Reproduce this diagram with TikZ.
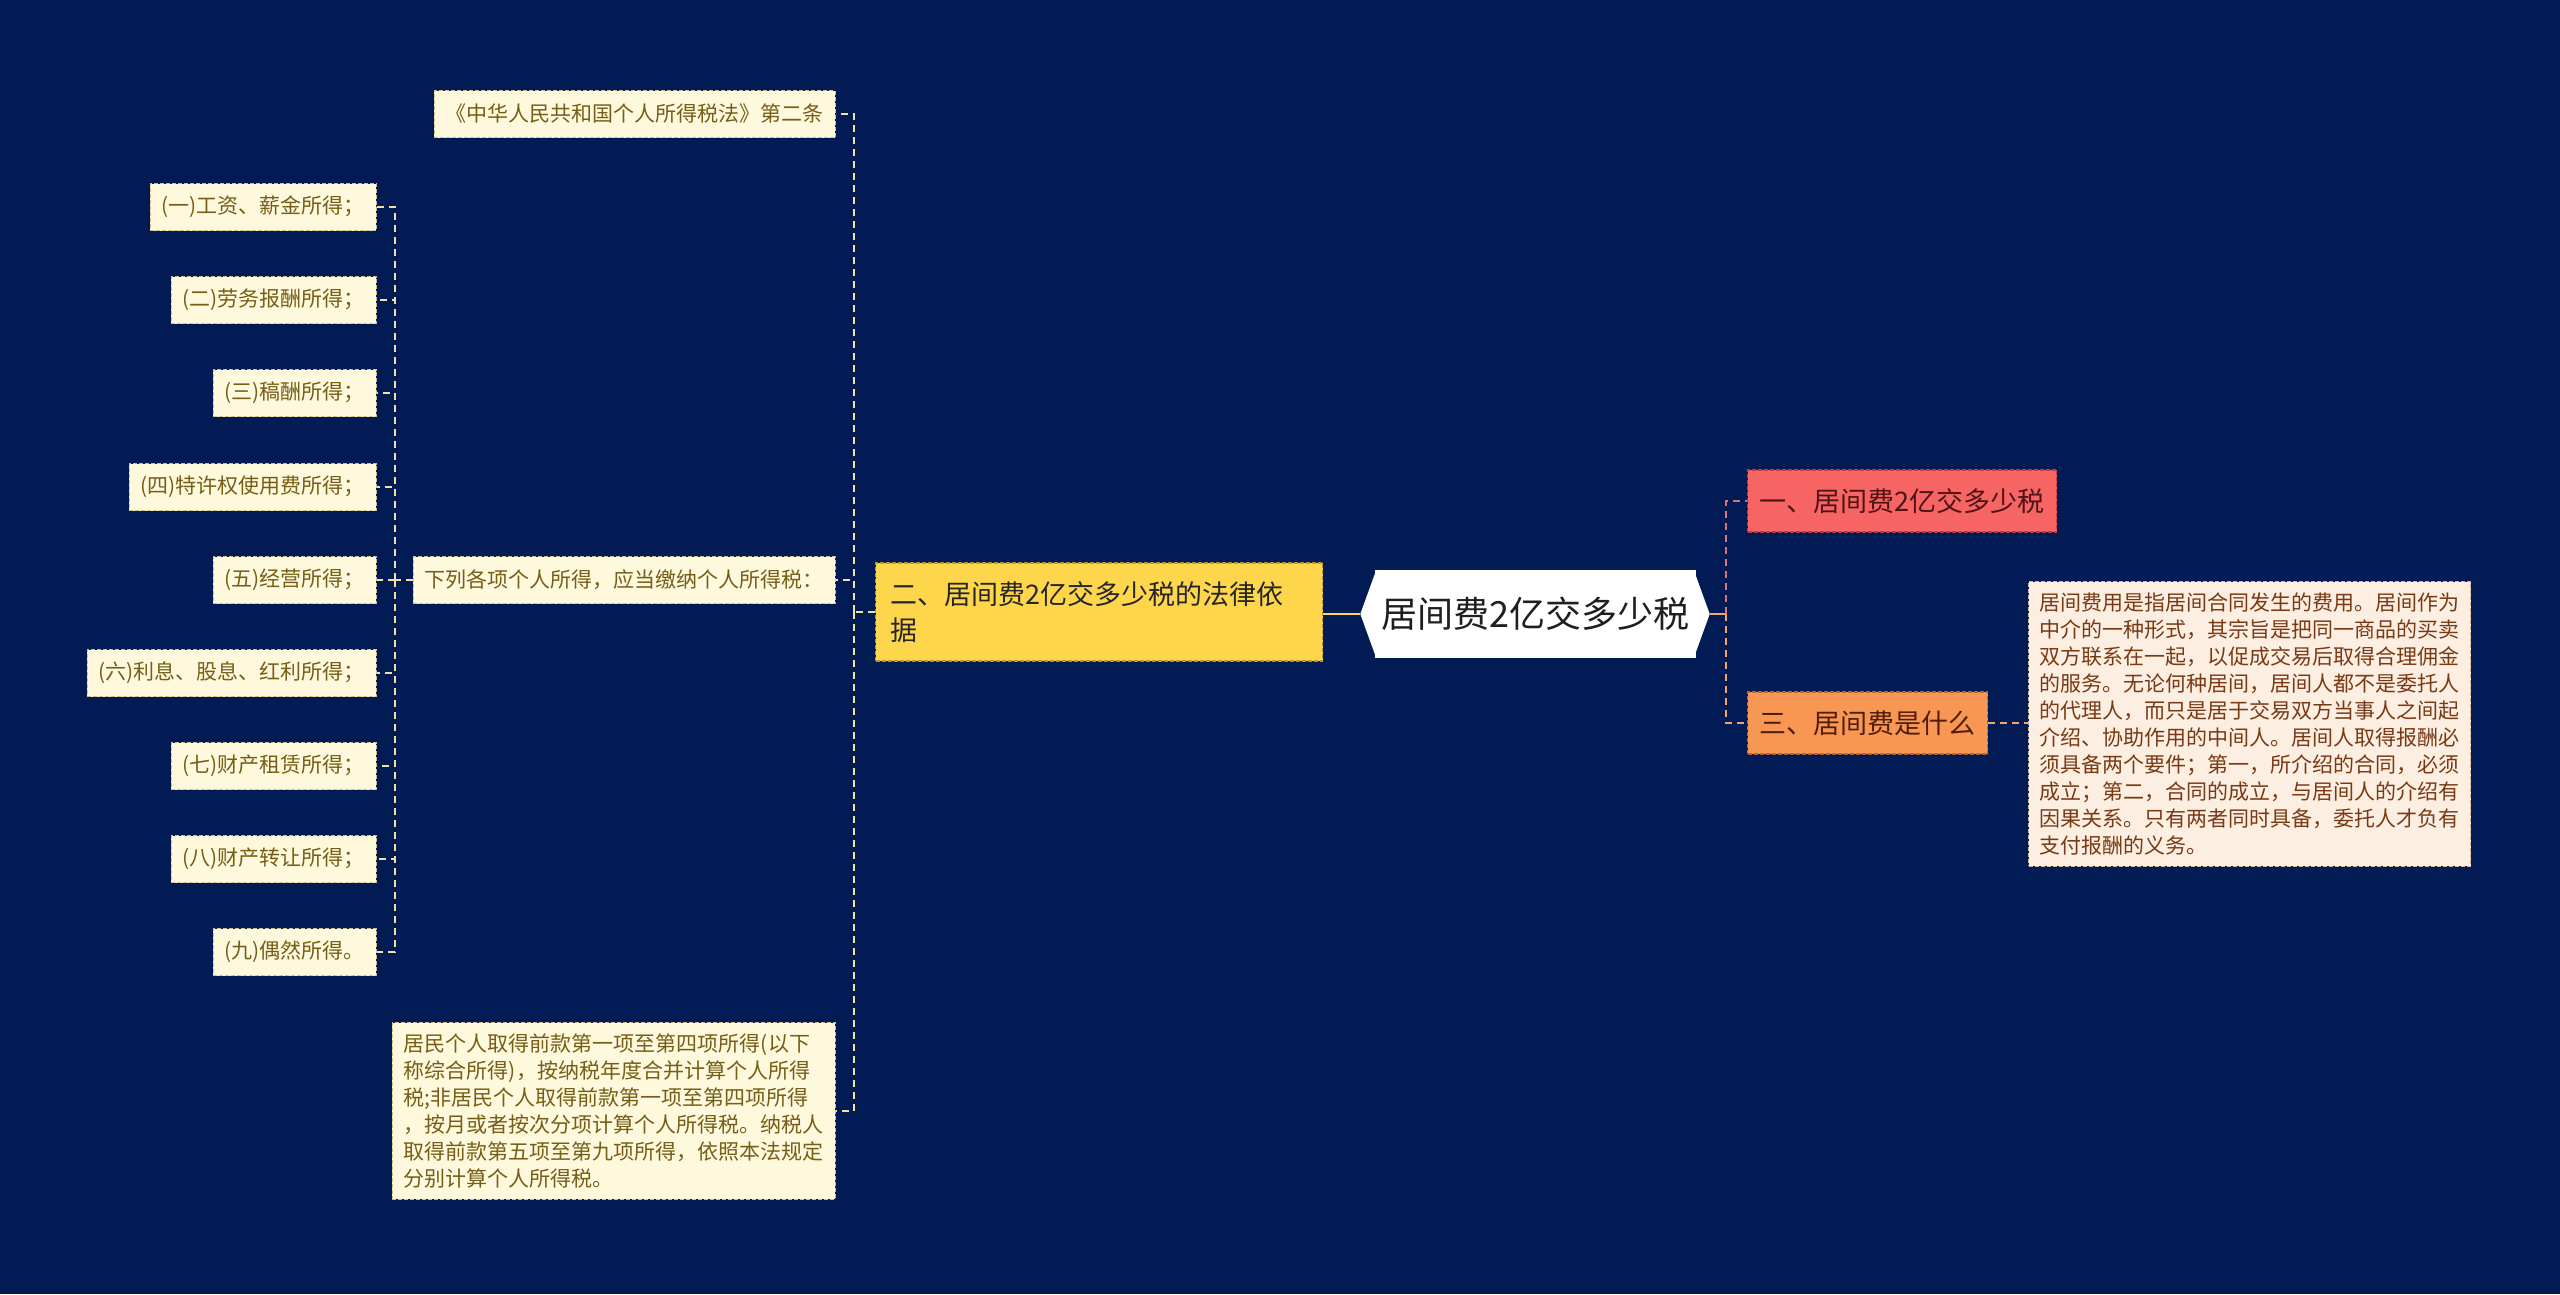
\documentclass[tikz,border=0pt]{standalone}
\usepackage{fontspec}
\setmainfont{Noto Sans CJK SC}
\definecolor{bg}{RGB}{2,27,84}
\definecolor{creamfill}{RGB}{254,248,221}
\definecolor{creamedge}{RGB}{205,192,140}
\definecolor{creamtext}{RGB}{118,94,22}
\definecolor{yelfill}{RGB}{254,214,76}
\definecolor{yeledge}{RGB}{190,150,40}
\definecolor{redfill}{RGB}{246,100,100}
\definecolor{rededge}{RGB}{190,60,60}
\definecolor{redtext}{RGB}{80,20,20}
\definecolor{orgfill}{RGB}{248,150,84}
\definecolor{orgedge}{RGB}{190,100,40}
\definecolor{orgtext}{RGB}{80,30,10}
\definecolor{descfill}{RGB}{253,238,226}
\definecolor{descedge}{RGB}{215,180,150}
\definecolor{desctext}{RGB}{120,58,20}
\definecolor{lconncol}{RGB}{240,226,165}
\definecolor{pconncol}{RGB}{225,112,122}
\definecolor{oconncol}{RGB}{240,165,115}
\definecolor{rootline}{RGB}{250,215,95}
\begin{document}
\begin{tikzpicture}[x=1pt,y=-1pt,
  boxbase/.style={dash pattern=on 4pt off 2pt, line width=1.2pt, inner ysep=0pt},
  cream/.style={boxbase, fill=creamfill, draw=creamedge, text=creamtext,
    font=\fontsize{21}{27}\selectfont, inner xsep=11.5pt, minimum height=47pt},
  creamtall/.style={boxbase, fill=creamfill, draw=creamedge, text=creamtext,
    font=\fontsize{21}{27}\selectfont, inner xsep=11.5pt, inner ysep=11pt, align=left},
  yelbox/.style={boxbase, fill=yelfill, draw=yeledge, text=black!85,
    font=\fontsize{27}{36}\selectfont, inner xsep=15pt, text width=417pt, align=left, minimum height=98pt},
  redbox/.style={boxbase, fill=redfill, draw=rededge, text=redtext,
    font=\fontsize{27}{34}\selectfont, inner xsep=12pt, minimum height=62pt},
  orgbox/.style={boxbase, fill=orgfill, draw=orgedge, text=orgtext,
    font=\fontsize{27}{34}\selectfont, inner xsep=12pt, minimum height=62pt},
  descbox/.style={boxbase, fill=descfill, draw=descedge, text=desctext,
    font=\fontsize{21}{27}\selectfont, inner xsep=11pt, inner ysep=11pt, align=left},
  rootbox/.style={fill=white, minimum width=321pt, minimum height=88pt, inner sep=0pt,
    font=\fontsize{36}{40}\selectfont, text=black!88},
  lconn/.style={draw=lconncol, line width=2pt, dash pattern=on 7pt off 5pt},
  pconn/.style={draw=pconncol, line width=2pt, dash pattern=on 7pt off 5pt},
  oconn/.style={draw=oconncol, line width=2pt, dash pattern=on 7pt off 5pt},
  solidlink/.style={draw=rootline, line width=2.5pt},
  stublink/.style={draw=oconncol, line width=2.5pt}
]
\fill[bg] (0,0) rectangle (2560,1294);
\useasboundingbox (0,0) rectangle (2560,1294);

% root
\node[rootbox] (root) at (1535,614) {居间费2亿交多少税};
\fill[white] ([xshift=-2pt]root.north east) -- ([xshift=14pt]root.east) -- ([xshift=-2pt]root.south east) -- cycle;
\fill[white] ([xshift=2pt]root.north west) -- ([xshift=-14pt]root.west) -- ([xshift=2pt]root.south west) -- cycle;

% right side
\node[redbox, anchor=west] (n1) at (1747,501) {一、居间费2亿交多少税};
\node[orgbox, anchor=west] (n3) at (1747,723) {三、居间费是什么};
\node[descbox, anchor=west] (desc) at (2028,724) {居间费用是指居间合同发生的费用。居间作为\\中介的一种形式，其宗旨是把同一商品的买卖\\双方联系在一起，以促成交易后取得合理佣金\\的服务。无论何种居间，居间人都不是委托人\\的代理人，而只是居于交易双方当事人之间起\\介绍、协助作用的中间人。居间人取得报酬必\\须具备两个要件；第一，所介绍的合同，必须\\成立；第二，合同的成立，与居间人的介绍有\\因果关系。只有两者同时具备，委托人才负有\\支付报酬的义务。};

% left side
\node[yelbox, anchor=west] (n2) at (875,612) {二、居间费2亿交多少税的法律依\\据};
\node[cream, anchor=east] (lawref) at (836,114) {《中华人民共和国个人所得税法》第二条};
\node[cream, anchor=east] (list) at (836,580) {下列各项个人所得，应当缴纳个人所得税：};
\node[creamtall, anchor=east] (resid) at (836,1111) {居民个人取得前款第一项至第四项所得(以下\\称综合所得)，按纳税年度合并计算个人所得\\税;非居民个人取得前款第一项至第四项所得\\，按月或者按次分项计算个人所得税。纳税人\\取得前款第五项至第九项所得，依照本法规定\\分别计算个人所得税。};

\node[cream, anchor=east] (i1) at (377,207) {(一)工资、薪金所得；};
\node[cream, anchor=east] (i2) at (377,300) {(二)劳务报酬所得；};
\node[cream, anchor=east] (i3) at (377,393) {(三)稿酬所得；};
\node[cream, anchor=east] (i4) at (377,487) {(四)特许权使用费所得；};
\node[cream, anchor=east] (i5) at (377,580) {(五)经营所得；};
\node[cream, anchor=east] (i6) at (377,673) {(六)利息、股息、红利所得；};
\node[cream, anchor=east] (i7) at (377,766) {(七)财产租赁所得；};
\node[cream, anchor=east] (i8) at (377,859) {(八)财产转让所得；};
\node[cream, anchor=east] (i9) at (377,952) {(九)偶然所得。};

% connectors
\draw[solidlink] ([xshift=-14pt]root.west) -- (n2.east |- root.west);
\coordinate (rj) at (1726,614);
\draw[stublink] ([xshift=14pt]root.east) -- (rj);
\draw[pconn] (rj) |- (n1.west);
\draw[oconn] (rj) |- (n3.west);
\draw[oconn] (n3.east) -- (desc.west |- n3.east);

\coordinate (lj) at (854,612);
\draw[lconn] (n2.west) -- (lj);
\draw[lconn] (lj) |- (lawref.east);
\draw[lconn] (lj) |- (list.east);
\draw[lconn] (lj) |- (resid.east);

\coordinate (lj2) at (395,580);
\draw[lconn] (list.west) -- (lj2);
\foreach \k in {1,...,9} {\draw[lconn] (lj2) |- (i\k.east);}
\end{tikzpicture}
\end{document}
